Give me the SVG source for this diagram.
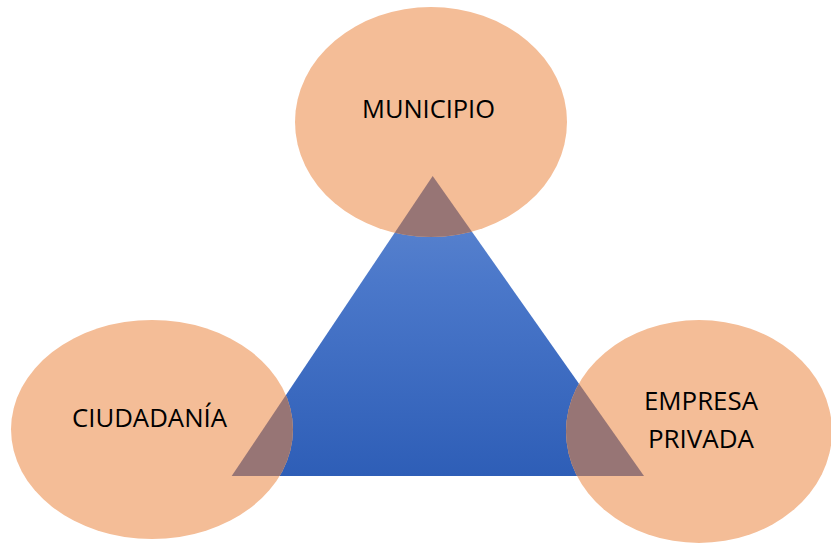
<svg xmlns="http://www.w3.org/2000/svg" width="831" height="547" viewBox="0 0 831 547">
<style>
.node{fill:#F4BD97}
.ov{fill:#977575}
.lbl{font-family:"Open Sans","Liberation Sans",sans-serif;font-size:25px;fill:#000}
</style>
<defs>
<linearGradient id="tg" x1="0" y1="176" x2="0" y2="476" gradientUnits="userSpaceOnUse">
<stop offset="0" stop-color="#6088D0"/>
<stop offset="0.35" stop-color="#4B78CA"/>
<stop offset="1" stop-color="#2E5EB7"/>
</linearGradient>
<clipPath id="cTop"><ellipse cx="431" cy="122" rx="136" ry="115"/></clipPath>
<clipPath id="cLeft"><ellipse cx="152" cy="429.5" rx="141" ry="109.5"/></clipPath>
<clipPath id="cRight"><ellipse cx="699" cy="431.5" rx="133" ry="111.5"/></clipPath>
<polygon id="tri" points="432.7,176 644,476 231.7,476"/>
</defs>
<g id="triangle">
<use href="#tri" fill="url(#tg)"/>
</g>
<g id="municipio">
<ellipse class="node" cx="431" cy="122" rx="136" ry="115"/>
</g>
<g id="ciudadania">
<ellipse class="node" cx="152" cy="429.5" rx="141" ry="109.5"/>
</g>
<g id="empresa">
<ellipse class="node" cx="699" cy="431.5" rx="133" ry="111.5"/>
</g>
<g id="overlaps">
<use href="#tri" class="ov" clip-path="url(#cTop)"/>
<use href="#tri" class="ov" clip-path="url(#cLeft)"/>
<use href="#tri" class="ov" clip-path="url(#cRight)"/>
</g>
<g id="labels">
<text class="lbl" x="362" y="118" textLength="133" lengthAdjust="spacingAndGlyphs">MUNICIPIO</text>
<text class="lbl" x="72" y="427" textLength="155" lengthAdjust="spacingAndGlyphs">CIUDADANÍA</text>
<text class="lbl" x="644" y="410" textLength="114" lengthAdjust="spacingAndGlyphs">EMPRESA</text>
<text class="lbl" x="648" y="448" textLength="106" lengthAdjust="spacingAndGlyphs">PRIVADA</text>
</g>
</svg>
